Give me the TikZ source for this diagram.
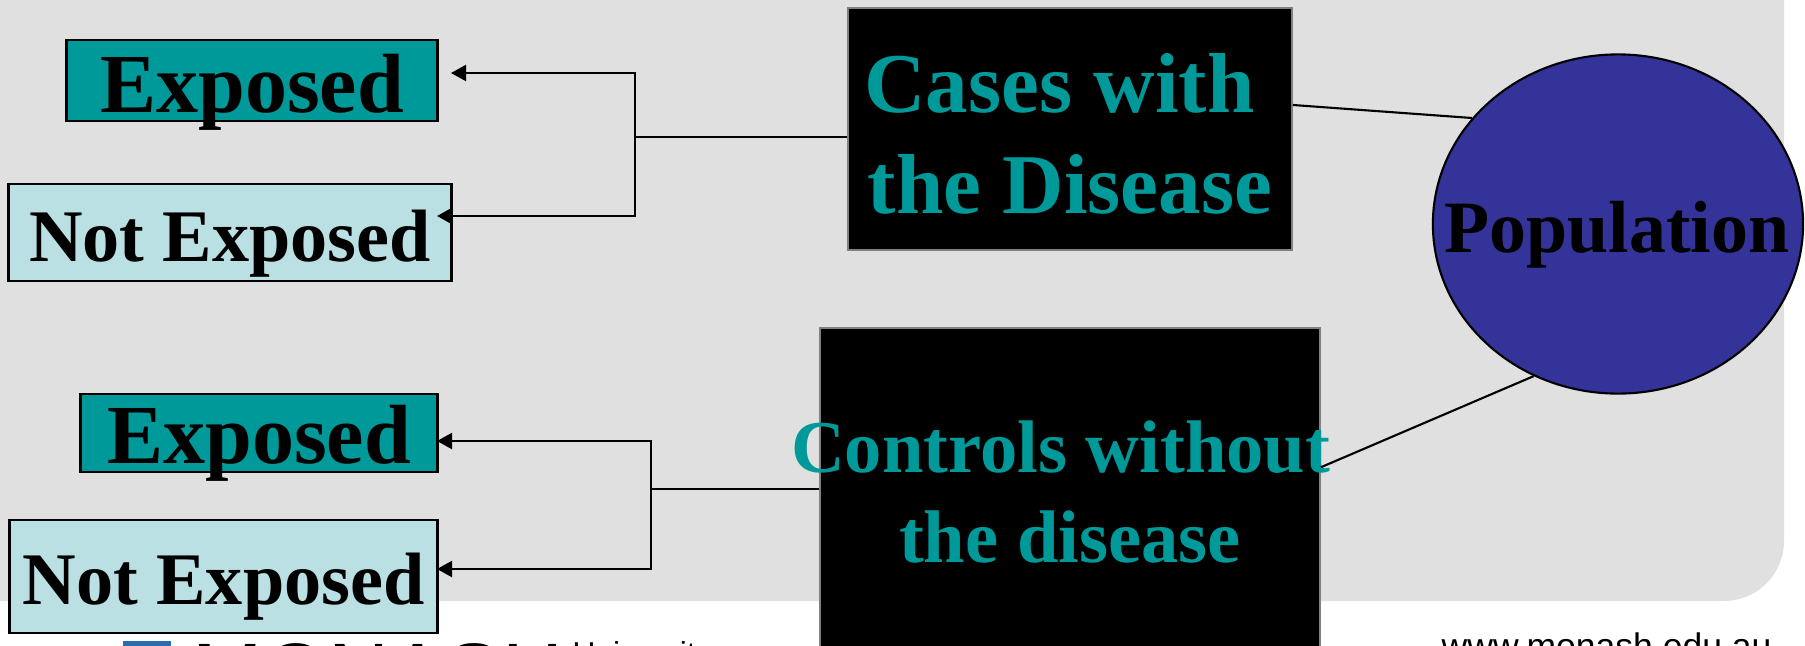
\documentclass[tikz,border=0pt]{standalone}
\usepackage{fontspec}
\setmainfont{Liberation Serif}
\newfontfamily\footfont{Liberation Sans}
\usepackage{tikz}
\usetikzlibrary{
arrows.meta,
shapes,
}
\definecolor{slidegray}{HTML}{E0E0E0}
\definecolor{expteal}{HTML}{009999}
\definecolor{paleblue}{HTML}{BBE0E3}
\definecolor{popblue}{HTML}{333399}
\definecolor{logoblue}{HTML}{2B6CB0}

\begin{document}
\begin{tikzpicture}[x=0.01cm, y=-0.01cm,
	exposed/.style={draw, line width=0.8pt, fill=expteal, inner sep=0pt, font=\fontsize{23.9}{28}\selectfont\bfseries},
	notexposed/.style={draw, line width=0.8pt, fill=paleblue, inner sep=0pt, font=\fontsize{21.1}{25}\selectfont\bfseries},
	group/.style={fill=black, draw=gray, line width=0.4pt, inner sep=0pt},
	grouptext/.style={anchor=base, text=expteal, inner sep=0pt},
	link/.style={line width=0.6pt},
	arr/.style={link, -{Triangle[length=4.3pt,width=4.6pt]}},
	]
			\useasboundingbox (0,0) rectangle (1805,645);
			\clip (0,0) rectangle (1805,645);
			\fill[slidegray, rounded corners=0.6cm] (-100,-100) rectangle (1784,601);

			\coordinate(jA) at (635,137);
			\coordinate(jB) at (651,489);
			\coordinate(tipA) at (451,73);
			\coordinate(tipB) at (437,216);
			\coordinate(tipC) at (437,441);
			\coordinate(tipD) at (437,569);

			\node[exposed, minimum width=3.70cm, text height=0.72cm, text depth=0.09cm] (expA) at (252,80.5) {Exposed};
			\node[notexposed, minimum width=4.42cm, text height=0.77cm, text depth=0.20cm] (notA) at (230,232.5) {Not Exposed};
			\node[exposed, minimum width=3.56cm, text height=0.69cm, text depth=0.09cm] (expB) at (259,433) {Exposed};
			\node[notexposed, minimum width=4.27cm, text height=0.84cm, text depth=0.29cm] (notB) at (223.5,576.5) {Not Exposed};

			\node[group, minimum width=4.44cm, minimum height=2.42cm] (cases) at (1070,129) {};
			\node[grouptext, font=\fontsize{24.2}{29}\selectfont\bfseries] (casesA) at (1070,112) {Cases with\kern.25em};
			\node[grouptext, font=\fontsize{24.2}{29}\selectfont\bfseries] (casesB) at (1070,213) {the Disease};
			\node[group, minimum width=5.00cm, minimum height=3.92cm] (ctrl) at (1070,524) {};
			\node[grouptext, font=\fontsize{21.2}{25}\selectfont\bfseries] (ctrlA) at (1070,472) {Controls without\kern.25em};
			\node[grouptext, font=\fontsize{21.2}{25}\selectfont\bfseries] (ctrlB) at (1070,562) {the disease};

			\node[ellipse, draw, line width=0.6pt, fill=popblue, minimum width=3.70cm, minimum height=3.39cm, inner sep=0pt] (pop) at (1618,224) {};
			\node[anchor=base, inner sep=0pt, font=\fontsize{21}{25}\selectfont\bfseries] (poptext) at (1617,252) {Population};

			\draw[link] (cases.west |- jA) -- (jA);
			\draw[arr] (jA) |- (tipA);
			\draw[arr] (jA) |- (tipB);
			\draw[link] (ctrl.west |- jB) -- (jB);
			\draw[arr] (jB) |- (tipC);
			\draw[arr] (jB) |- (tipD);
			\draw[link] ([yshift=0.24cm]cases.east) -- (pop.144);
			\draw[link] ([yshift=-1.40cm]ctrl.north east) -- (pop.241);

			\fill[logoblue] (123,641) rectangle (171,690);
			\node[anchor=base west, inner sep=0pt, font=\footfont\fontsize{24}{28}\selectfont] (monash) at (192,702) {MONASH};
			\node[anchor=base west, inner sep=0pt, font=\footfont\fontsize{9}{11}\selectfont] (uni) at (572,664) {University};
			\node[anchor=base west, inner sep=0pt, font=\footfont\fontsize{10.1}{12}\selectfont] (web) at (1441,658) {www.monash.edu.au};
		\end{tikzpicture}
\end{document}
